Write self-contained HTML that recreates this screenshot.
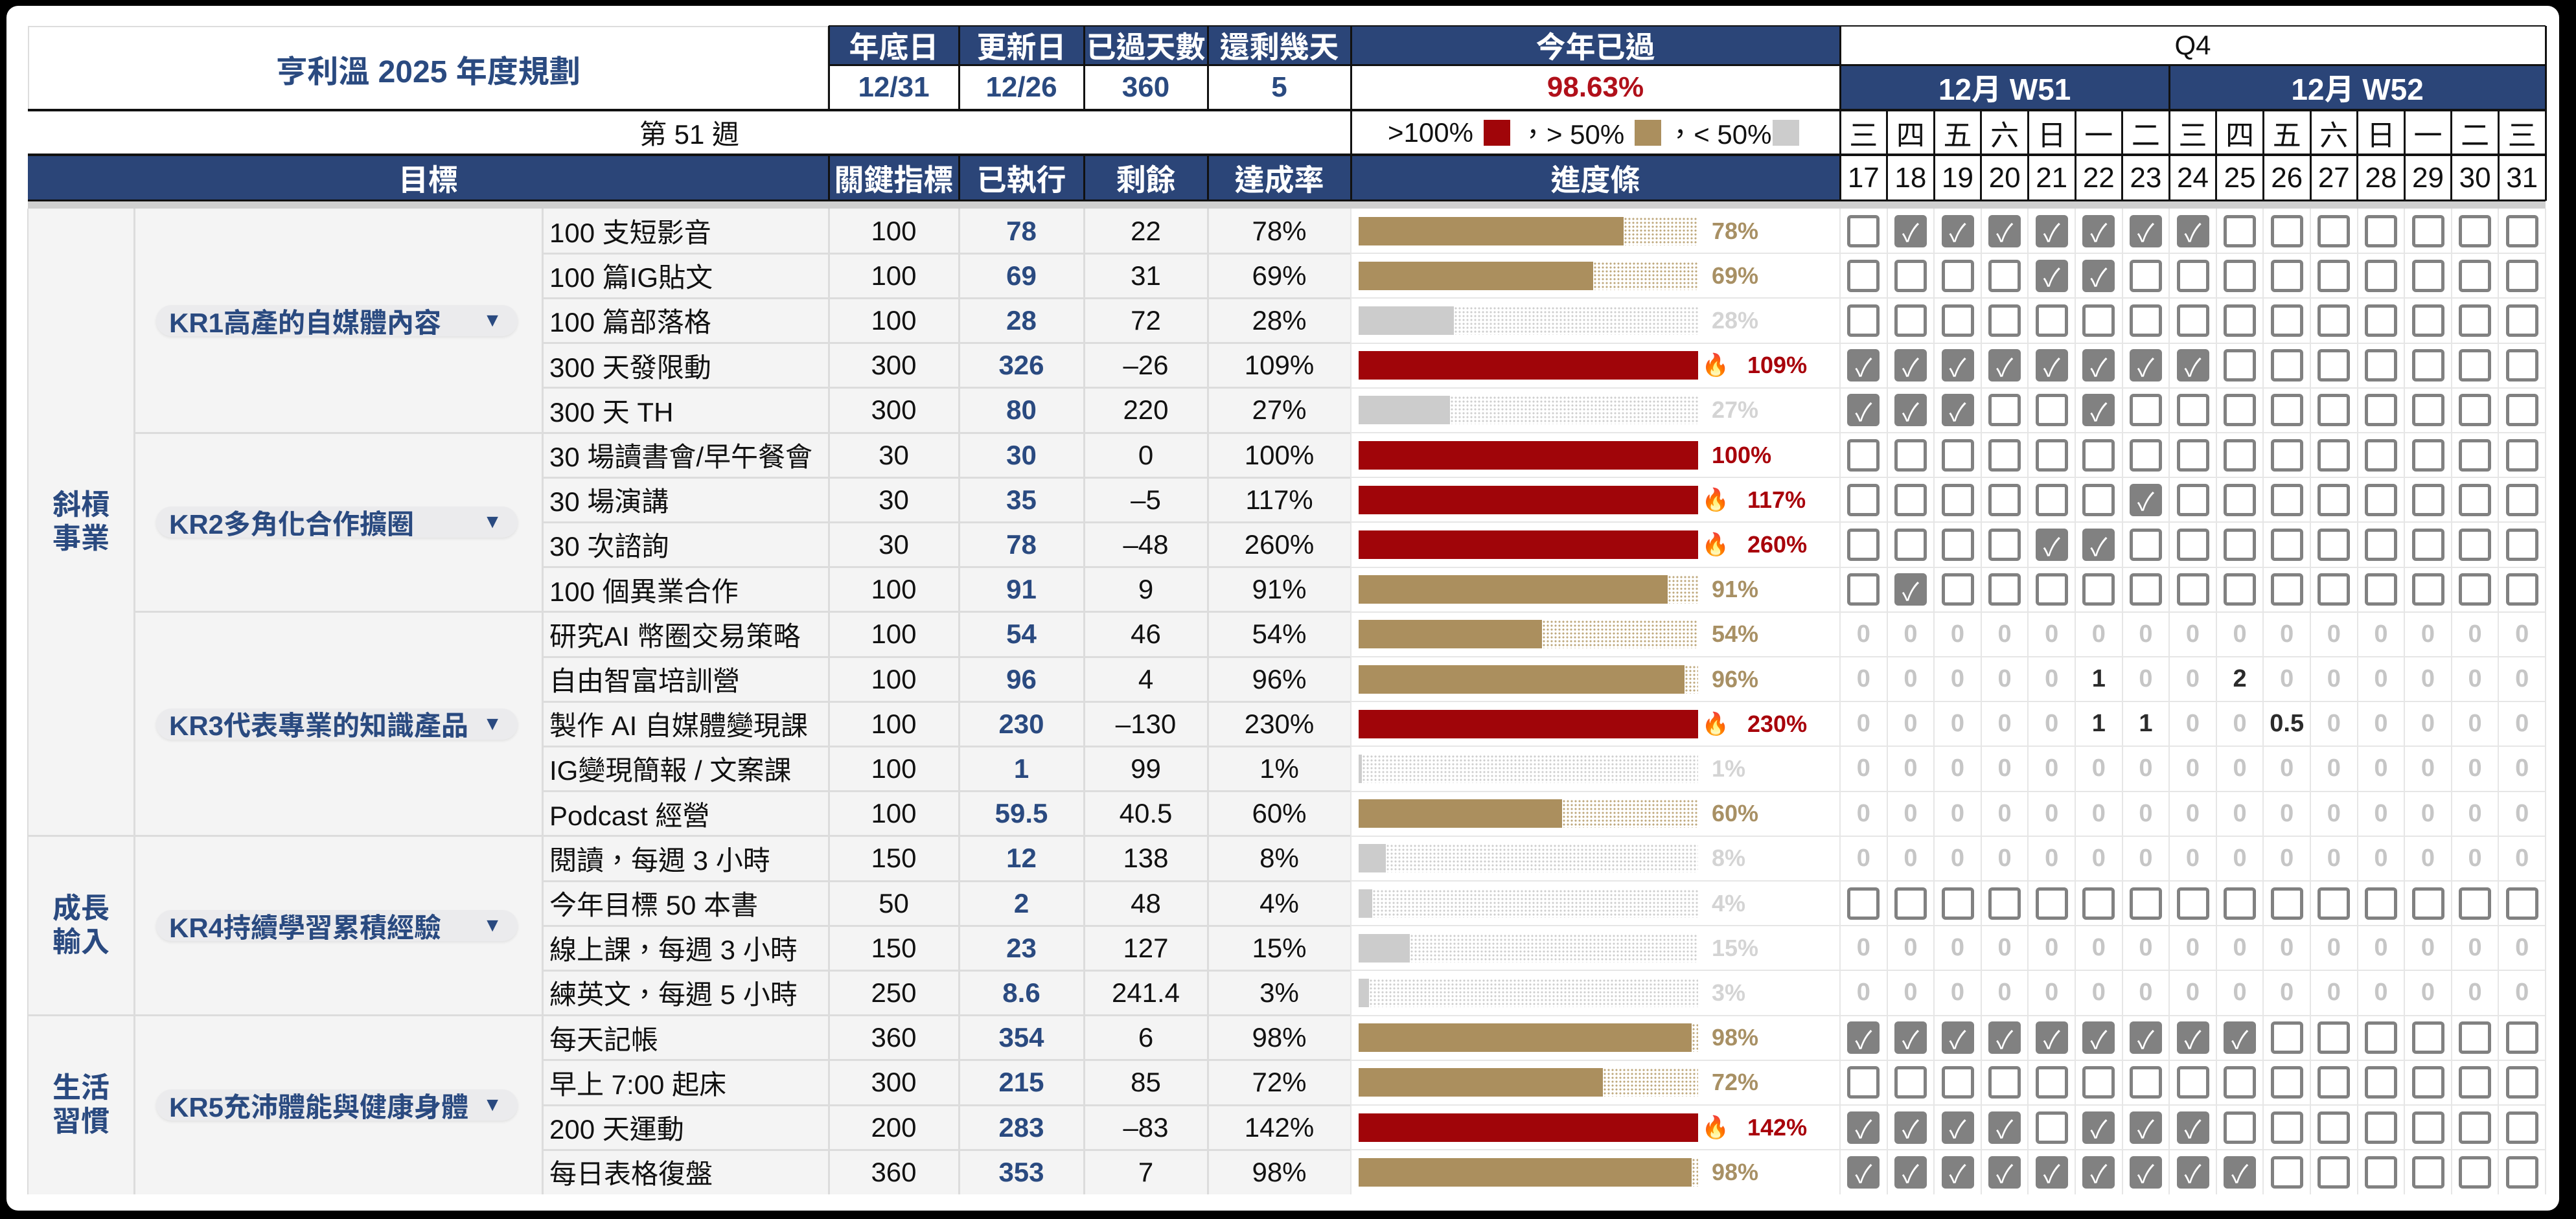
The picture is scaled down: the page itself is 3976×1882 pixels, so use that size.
<!DOCTYPE html>
<html><head><meta charset="utf-8">
<style>
html,body{margin:0;padding:0;width:3976px;height:1882px;overflow:hidden;background:#000;}
#panel{position:absolute;left:10px;top:9px;width:3940px;height:1860px;background:#fff;border-radius:18px;}
#root{position:absolute;left:0;top:0;width:3976px;height:1882px;font-family:"Liberation Sans","Noto Sans CJK TC",sans-serif;font-size:42px;color:#111;}
.a{position:absolute;box-sizing:border-box;}
.c{display:flex;align-items:center;justify-content:center;white-space:nowrap;}
.navy{background:#2b4578;color:#fff;font-weight:bold;font-size:46px;}
.b{font-weight:bold;}
</style></head>
<body>
<div id="panel"></div>
<div id="root"></div>
<script>
// ---- data ----
const categories = ["斜槓\n事業", "成長\n輸入", "生活\n習慣"];
const categorySpans = [14, 4, 4];
const krNames = ["KR1高產的自媒體內容", "KR2多角化合作擴圈", "KR3代表專業的知識產品", "KR4持續學習累積經驗", "KR5充沛體能與健康身體"];
const krSpans = [5, 4, 5, 4, 4];
const items = ["100 支短影音","100 篇IG貼文","100 篇部落格","300 天發限動","300 天 TH","30 場讀書會/早午餐會","30 場演講","30 次諮詢","100 個異業合作","研究AI 幣圈交易策略","自由智富培訓營","製作 AI 自媒體變現課","IG變現簡報 / 文案課","Podcast 經營","閱讀，每週 3 小時","今年目標 50 本書","線上課，每週 3 小時","練英文，每週 5 小時","每天記帳","早上 7:00 起床","200 天運動","每日表格復盤"];
const targets = [100,100,100,300,300,30,30,30,100,100,100,100,100,100,150,50,150,250,360,300,200,360];
const done = [78,69,28,326,80,30,35,78,91,54,96,230,1,59.5,12,2,23,8.6,354,215,283,353];
const weekdays = ["三","四","五","六","日","一","二","三","四","五","六","日","一","二","三"];
const dates = [17,18,19,20,21,22,23,24,25,26,27,28,29,30,31];
const rowKinds = ["c","c","c","c","c","c","c","c","c","n","n","n","n","n","n","c","n","n","c","c","c","c"];
const daily = [
 [0,1,1,1,1,1,1,1,0,0,0,0,0,0,0],
 [0,0,0,0,1,1,0,0,0,0,0,0,0,0,0],
 [0,0,0,0,0,0,0,0,0,0,0,0,0,0,0],
 [1,1,1,1,1,1,1,1,0,0,0,0,0,0,0],
 [1,1,1,0,0,1,0,0,0,0,0,0,0,0,0],
 [0,0,0,0,0,0,0,0,0,0,0,0,0,0,0],
 [0,0,0,0,0,0,1,0,0,0,0,0,0,0,0],
 [0,0,0,0,1,1,0,0,0,0,0,0,0,0,0],
 [0,1,0,0,0,0,0,0,0,0,0,0,0,0,0],
 [0,0,0,0,0,0,0,0,0,0,0,0,0,0,0],
 [0,0,0,0,0,1,0,0,2,0,0,0,0,0,0],
 [0,0,0,0,0,1,1,0,0,0.5,0,0,0,0,0],
 [0,0,0,0,0,0,0,0,0,0,0,0,0,0,0],
 [0,0,0,0,0,0,0,0,0,0,0,0,0,0,0],
 [0,0,0,0,0,0,0,0,0,0,0,0,0,0,0],
 [0,0,0,0,0,0,0,0,0,0,0,0,0,0,0],
 [0,0,0,0,0,0,0,0,0,0,0,0,0,0,0],
 [0,0,0,0,0,0,0,0,0,0,0,0,0,0,0],
 [1,1,1,1,1,1,1,1,1,0,0,0,0,0,0],
 [0,0,0,0,0,0,0,0,0,0,0,0,0,0,0],
 [1,1,1,1,0,1,1,1,0,0,0,0,0,0,0],
 [1,1,1,1,1,1,1,1,1,0,0,0,0,0,0]
];
const headerLabels = ["年底日","更新日","已過天數","還剩幾天","今年已過"];
const headerValues = ["12/31","12/26","360","5","98.63%"];
const colLabels = ["關鍵指標","已執行","剩餘","達成率","進度條"];

// ---- layout ----
const X = [43,207,837,1279,1480,1673,1864,2085,2840];
const DX = 2840, DW = 72.6, RIGHT = 3929;
const Y0 = 322, RH = 69.2;
const BAR_X = 2097, BAR_W = 524, BAR_H = 44;
const NAVY = "#2b4578", RED = "#a00509", TAN = "#ab8f5e", GRAY = "#cccccc";
const root = document.getElementById('root');

function box(name, inter, x, y, w, h, cls, css, text){
  const e = document.createElement('div');
  
  
  e.className = 'a ' + (cls||'');
  e.style.cssText = `left:${x}px;top:${y}px;width:${w}px;height:${h}px;` + (css||'');
  if (text !== undefined) e.textContent = text;
  root.appendChild(e);
  return e;
}
function line(name, x, y, w, h, col){ return box(name, 'false', x, y, w, h, '', 'background:'+col+';'); }

// ---- header ----
box('title-cell','false',X[0],40,X[3]-X[0],130,'c b','font-size:48px;color:#2a4a80;border:2px solid #ddd;border-bottom:none;','亨利溫 2025 年度規劃');
for (let i=0;i<5;i++){
  const x=X[3+i], w=X[4+i]-x;
  box('header-'+headerLabels[i],'false',x,40,w,60,'c navy','',headerLabels[i]);
  box('value-'+headerLabels[i],'false',x,100,w,70,'c b','font-size:44px;color:'+(i==4?'#b0101a':'#2a4a80')+';',headerValues[i]);
}
box('week-label','false',X[0],170,X[7]-X[0],69,'c','','第 51 週');
const lg = box('legend','false',X[7],170,X[8]-X[7],69,'c','justify-content:flex-start;padding-left:57px;');
lg.innerHTML = '<span>&gt;100%</span><span style="display:inline-block;width:41px;height:40px;background:'+RED+';margin:0 14px 0 16px"></span><span>，&gt; 50%</span><span style="display:inline-block;width:41px;height:40px;background:'+TAN+';margin:0 8px 0 16px"></span><span>，&lt; 50%</span><span style="display:inline-block;width:41px;height:40px;background:'+GRAY+';margin-left:2px"></span>';
box('header-goal','false',X[0],239,X[3]-X[0],71,'c navy','','目標');
for (let i=0;i<5;i++){
  box('header-'+colLabels[i],'false',X[3+i],239,X[4+i]-X[3+i],71,'c navy','',colLabels[i]);
}
box('quarter-label','false',DX,40,RIGHT-DX,60,'c','','Q4');
box('week-w51','false',DX,100,DW*7,70,'c navy','','12月 W51');
box('week-w52','false',DX+DW*7,100,RIGHT-DX-DW*7,70,'c navy','','12月 W52');
weekdays.forEach((w,i)=>{
  box('weekday-'+dates[i],'false',DX+DW*i,170,DW,69,'c','font-size:44px;',w);
  box('date-'+dates[i],'false',DX+DW*i,239,DW,71,'c','font-size:44px;',String(dates[i]));
});
// header lines
[100,170,239].forEach(y=>line('header-rule',X[3],y-1.5,RIGHT-X[3],3,'#111'));
line('header-rule',X[0],168,RIGHT-X[0],4,'#111');
line('header-rule',X[0],237,RIGHT-X[0],4,'#111');
line('header-rule',X[0],308,RIGHT-X[0],3,'#111');
line('header-top',X[3],39,RIGHT-X[3],2,'#111');
for (let i=3;i<=8;i++){ line('header-divider',X[i]-1.5,40,3,130,'#111'); }
[7,8].forEach(i=>line('header-divider',X[i]-1.5,170,3,140,'#111'));
for (let i=3;i<=7;i++){ line('header-divider',X[i]-1.5,239,3,71,'#111'); }
for (let i=1;i<15;i++){ line('day-divider',DX+DW*i-1.5, i==7?100:170, 3, i==7?210:140,'#111'); }
line('header-right',RIGHT-1.5,40,3,270,'#111');
line('header-shadow',X[0],311,RIGHT-X[0],11,'#d0d0d0');

// ---- data rows ----
const nRows = items.length;
const yEnd = Y0 + RH*nRows;
box('goal-area','false',X[0],Y0,X[7]-X[0],yEnd-Y0,'','background:#f4f4f4;');
let r=0;
categories.forEach((c,i)=>{
  const y=Y0+RH*r, h=RH*categorySpans[i];
  box('category-'+i,'false',X[0],y,X[1]-X[0],h,'c b','color:#2a4a80;white-space:pre;line-height:52px;text-align:center;font-size:44px;',c);
  r+=categorySpans[i];
  if (r<nRows) line('group-rule',X[0],Y0+RH*r-1.5,X[7]-X[0],3,'#dcdcdc');
});
r=0;
krNames.forEach((k,i)=>{
  const y=Y0+RH*r, h=RH*krSpans[i];
  const pill=box('kr-dropdown-'+(i+1),'true',241,y+h/2-24,558,48,'c b','justify-content:space-between;padding:0 24px 0 20px;background:#ebebed;border-radius:24px;color:#2a4a80;box-shadow:0 2px 4px rgba(0,0,0,0.08);');
  pill.innerHTML='<span>'+k+'</span><span style="font-size:30px">▼</span>';
  r+=krSpans[i];
  if (r<nRows) line('kr-rule',X[1],Y0+RH*r-1.5,X[7]-X[1],3,'#dcdcdc');
});
function fmt(v){ const t=Math.round(v*10)/10; return (t<0?'–'+Math.abs(t):String(t)); }
items.forEach((it,i)=>{
  const y=Y0+RH*i;
  const rate=Math.round(done[i]/targets[i]*100);
  box('item-'+i,'false',X[2]+11,y,X[3]-X[2]-11,RH,'c','justify-content:flex-start;',it);
  box('target-'+i,'false',X[3],y,X[4]-X[3],RH,'c','',String(targets[i]));
  box('done-'+i,'true',X[4],y,X[5]-X[4],RH,'c b','color:#2a4a80;',String(done[i]));
  box('remaining-'+i,'false',X[5],y,X[6]-X[5],RH,'c','',fmt(targets[i]-done[i]));
  box('rate-'+i,'false',X[6],y,X[7]-X[6],RH,'c','',rate+'%');
  const col = rate>=100?RED:(rate>50?TAN:GRAY);
  const dot = rate>50?'#bfa97e':'#cfcfcf';
  const fw = Math.min(rate,100)/100*BAR_W;
  box('progress-bg','false',X[7],y,X[8]-X[7],RH,'','background:#fff;');
  if (rate<100) box('progress-remainder-'+i,'false',BAR_X+fw,y+RH/2-BAR_H/2,BAR_W-fw,BAR_H,'','background-image:radial-gradient('+dot+' 1.4px,transparent 1.8px);background-size:6px 6px;');
  box('progress-bar-'+i,'false',BAR_X,y+RH/2-BAR_H/2,fw,BAR_H,'','background:'+col+';');
  const lc = rate>=100?'#a8000a':(rate>50?'#a89064':'#d4d4d4');
  if (rate>100){
    box('fire-icon-'+i,'false',2630,y,36,RH,'c','font-size:34px;','🔥');
    box('progress-label-'+i,'false',2697,y,130,RH,'c b','justify-content:flex-start;font-size:36px;color:'+lc+';',rate+'%');
  } else {
    box('progress-label-'+i,'false',2642,y,130,RH,'c b','justify-content:flex-start;font-size:36px;color:'+lc+';',rate+'%');
  }
  daily[i].forEach((v,d)=>{
    const x=DX+DW*d;
    if (rowKinds[i]=='c'){
      box('checkbox-'+dates[d]+'-'+i,'true',x+DW/2-25,y+RH/2-25,50,50,'c','border-radius:6px;border:5px solid #818181;color:#fff;font-size:38px;'+(v?'background:#818181;':'background:#fff;'), v?'✓':'');
    } else {
      box('count-'+dates[d]+'-'+i,'true',x,y,DW,RH,'c',(v?'font-weight:bold;color:#2b2b2b;font-size:38px;':'font-weight:bold;color:#c6c6c6;font-size:38px;'),String(v));
    }
  });
  if (i>0){
    line('row-rule',X[2],y-1.5,X[7]-X[2],3,'#dcdcdc');
    line('row-rule',X[7],y-1,RIGHT-X[7],2,'#e6e6e6');
  }
});
[X[1],X[2],X[3],X[4],X[5],X[6]].forEach(x=>line('col-rule',x-1.5,Y0,3,yEnd-Y0,'#dcdcdc'));
line('col-rule',X[0]-1,Y0,2,yEnd-Y0,'#dcdcdc');
line('col-rule',X[7]-1,Y0,2,yEnd-Y0,'#e6e6e6');
for (let d=0; d<=15; d++){ line('day-rule',DX+DW*d-1,Y0,2,yEnd-Y0,'#e6e6e6'); }
</script>
</body></html>
